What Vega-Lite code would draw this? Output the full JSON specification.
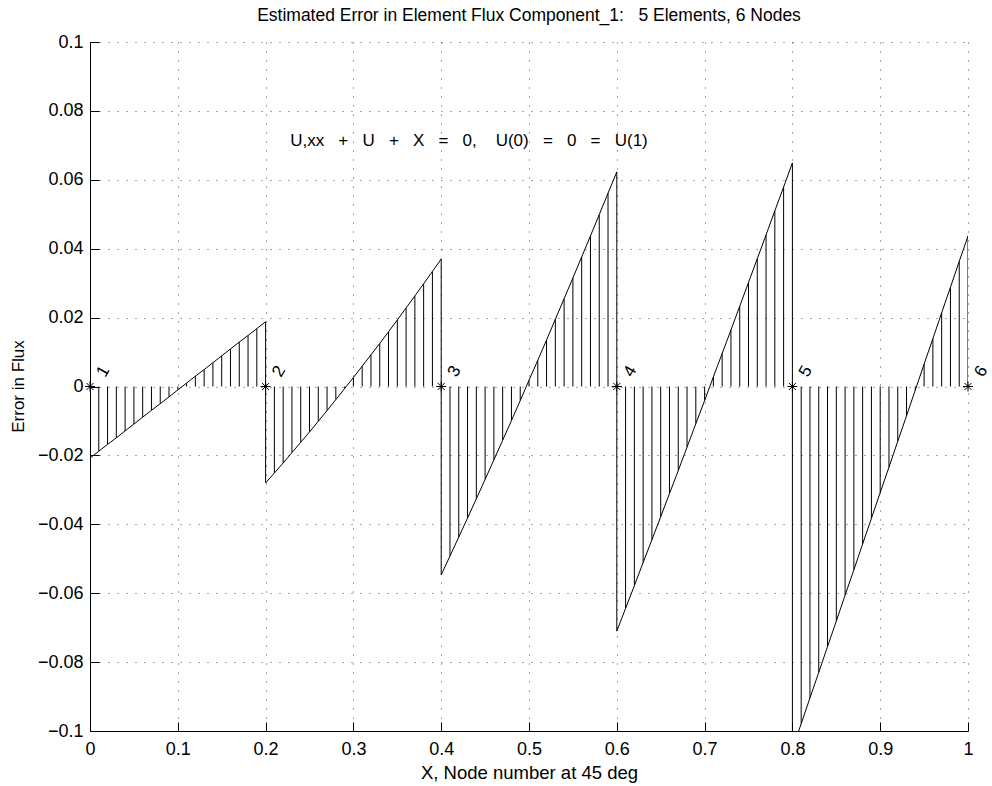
{
  "$schema": "https://vega.github.io/schema/vega-lite/v6.json",
  "autosize": {"type": "none"},
  "padding": {"left": 90, "top": 42, "right": 24, "bottom": 55},
  "width": 878,
  "height": 689,
  "background": "white",
  "title": {
    "text": "Estimated Error in Element Flux Component_1:\u00a0\u00a0\u00a05 Elements, 6 Nodes",
    "font": "Liberation Sans",
    "fontSize": 17.5,
    "fontWeight": "normal",
    "color": "black",
    "baseline": "alphabetic",
    "frame": "group",
    "anchor": "middle",
    "offset": 0,
    "dy": 5
  },
  "config": {
    "view": {"stroke": null},
    "axis": {
      "domainColor": "black",
      "tickColor": "black",
      "labelColor": "black",
      "titleColor": "black",
      "labelFont": "Liberation Sans",
      "titleFont": "Liberation Sans",
      "labelFontSize": 18,
      "titleFontWeight": "normal",
      "grid": true,
      "gridColor": "black",
      "gridDash": [1, 8],
      "gridOpacity": 0.7,
      "tickSize": -9,
      "labelFlush": false,
      "labelOverlap": false
    }
  },
  "datasets": {
    "err": [
      {"e": 1, "x": 0.00, "v": -0.0208}, {"e": 1, "x": 0.01, "v": -0.0188}, {"e": 1, "x": 0.02, "v": -0.0168},
      {"e": 1, "x": 0.03, "v": -0.0149}, {"e": 1, "x": 0.04, "v": -0.0129}, {"e": 1, "x": 0.05, "v": -0.0109},
      {"e": 1, "x": 0.06, "v": -0.0089}, {"e": 1, "x": 0.07, "v": -0.0069}, {"e": 1, "x": 0.08, "v": -0.0050},
      {"e": 1, "x": 0.09, "v": -0.0030}, {"e": 1, "x": 0.10, "v": -0.0010}, {"e": 1, "x": 0.11, "v": 0.0010},
      {"e": 1, "x": 0.12, "v": 0.0030}, {"e": 1, "x": 0.13, "v": 0.0049}, {"e": 1, "x": 0.14, "v": 0.0069},
      {"e": 1, "x": 0.15, "v": 0.0089}, {"e": 1, "x": 0.16, "v": 0.0109}, {"e": 1, "x": 0.17, "v": 0.0129},
      {"e": 1, "x": 0.18, "v": 0.0148}, {"e": 1, "x": 0.19, "v": 0.0168}, {"e": 1, "x": 0.20, "v": 0.0188},

      {"e": 2, "x": 0.20, "v": -0.0280}, {"e": 2, "x": 0.21, "v": -0.0251}, {"e": 2, "x": 0.22, "v": -0.0222},
      {"e": 2, "x": 0.23, "v": -0.0192}, {"e": 2, "x": 0.24, "v": -0.0162}, {"e": 2, "x": 0.25, "v": -0.0132},
      {"e": 2, "x": 0.26, "v": -0.0101}, {"e": 2, "x": 0.27, "v": -0.0070}, {"e": 2, "x": 0.28, "v": -0.0038},
      {"e": 2, "x": 0.29, "v": -0.0006}, {"e": 2, "x": 0.30, "v": 0.0026}, {"e": 2, "x": 0.31, "v": 0.0059},
      {"e": 2, "x": 0.32, "v": 0.0092}, {"e": 2, "x": 0.33, "v": 0.0125}, {"e": 2, "x": 0.34, "v": 0.0159},
      {"e": 2, "x": 0.35, "v": 0.0193}, {"e": 2, "x": 0.36, "v": 0.0228}, {"e": 2, "x": 0.37, "v": 0.0263},
      {"e": 2, "x": 0.38, "v": 0.0298}, {"e": 2, "x": 0.39, "v": 0.0334}, {"e": 2, "x": 0.40, "v": 0.0370},

      {"e": 3, "x": 0.40, "v": -0.0547}, {"e": 3, "x": 0.41, "v": -0.0492}, {"e": 3, "x": 0.42, "v": -0.0437},
      {"e": 3, "x": 0.43, "v": -0.0382}, {"e": 3, "x": 0.44, "v": -0.0326}, {"e": 3, "x": 0.45, "v": -0.0270},
      {"e": 3, "x": 0.46, "v": -0.0213}, {"e": 3, "x": 0.47, "v": -0.0156}, {"e": 3, "x": 0.48, "v": -0.0099},
      {"e": 3, "x": 0.49, "v": -0.0041}, {"e": 3, "x": 0.50, "v": 0.0018}, {"e": 3, "x": 0.51, "v": 0.0076},
      {"e": 3, "x": 0.52, "v": 0.0135}, {"e": 3, "x": 0.53, "v": 0.0195}, {"e": 3, "x": 0.54, "v": 0.0255},
      {"e": 3, "x": 0.55, "v": 0.0315}, {"e": 3, "x": 0.56, "v": 0.0376}, {"e": 3, "x": 0.57, "v": 0.0437},
      {"e": 3, "x": 0.58, "v": 0.0499}, {"e": 3, "x": 0.59, "v": 0.0561}, {"e": 3, "x": 0.60, "v": 0.0623},

      {"e": 4, "x": 0.60, "v": -0.0710}, {"e": 4, "x": 0.61, "v": -0.0644}, {"e": 4, "x": 0.62, "v": -0.0578},
      {"e": 4, "x": 0.63, "v": -0.0511}, {"e": 4, "x": 0.64, "v": -0.0445}, {"e": 4, "x": 0.65, "v": -0.0378},
      {"e": 4, "x": 0.66, "v": -0.0311}, {"e": 4, "x": 0.67, "v": -0.0244}, {"e": 4, "x": 0.68, "v": -0.0176},
      {"e": 4, "x": 0.69, "v": -0.0108}, {"e": 4, "x": 0.70, "v": -0.0041}, {"e": 4, "x": 0.71, "v": 0.0028},
      {"e": 4, "x": 0.72, "v": 0.0096}, {"e": 4, "x": 0.73, "v": 0.0164}, {"e": 4, "x": 0.74, "v": 0.0233},
      {"e": 4, "x": 0.75, "v": 0.0302}, {"e": 4, "x": 0.76, "v": 0.0371}, {"e": 4, "x": 0.77, "v": 0.0440},
      {"e": 4, "x": 0.78, "v": 0.0510}, {"e": 4, "x": 0.79, "v": 0.0579}, {"e": 4, "x": 0.80, "v": 0.0649},

      {"e": 5, "x": 0.80, "v": -0.1053}, {"e": 5, "x": 0.81, "v": -0.0979}, {"e": 5, "x": 0.82, "v": -0.0904},
      {"e": 5, "x": 0.83, "v": -0.0830}, {"e": 5, "x": 0.84, "v": -0.0755}, {"e": 5, "x": 0.85, "v": -0.0681},
      {"e": 5, "x": 0.86, "v": -0.0606}, {"e": 5, "x": 0.87, "v": -0.0532}, {"e": 5, "x": 0.88, "v": -0.0457},
      {"e": 5, "x": 0.89, "v": -0.0383}, {"e": 5, "x": 0.90, "v": -0.0308}, {"e": 5, "x": 0.91, "v": -0.0234},
      {"e": 5, "x": 0.92, "v": -0.0159}, {"e": 5, "x": 0.93, "v": -0.0085}, {"e": 5, "x": 0.94, "v": -0.0010},
      {"e": 5, "x": 0.95, "v": 0.0065}, {"e": 5, "x": 0.96, "v": 0.0139}, {"e": 5, "x": 0.97, "v": 0.0214},
      {"e": 5, "x": 0.98, "v": 0.0288}, {"e": 5, "x": 0.99, "v": 0.0363}, {"e": 5, "x": 1.00, "v": 0.0437}
    ],
    "nodes": [
      {"n": "1", "x": 0.0}, {"n": "2", "x": 0.2}, {"n": "3", "x": 0.4},
      {"n": "4", "x": 0.6}, {"n": "5", "x": 0.8}, {"n": "6", "x": 1.0}
    ]
  },
  "layer": [
    {
      "data": {"name": "err"},
      "mark": {"type": "rule", "color": "black", "strokeWidth": 1, "clip": true},
      "encoding": {
        "x": {
          "field": "x", "type": "quantitative",
          "scale": {"domain": [0, 1], "nice": false, "zero": false},
          "axis": {
            "values": [0, 0.1, 0.2, 0.3, 0.4, 0.5, 0.6, 0.7, 0.8, 0.9, 1],
            "format": "~g",
            "labelPadding": 18,
            "title": "X, Node number at 45 deg",
            "titleFontSize": 18.5,
            "titleX": 439,
            "titleY": 41,
            "titleBaseline": "middle",
            "titleAnchor": null
          }
        },
        "y": {
          "field": "v", "type": "quantitative",
          "scale": {"domain": [-0.1, 0.1], "nice": false, "zero": false},
          "axis": {
            "values": [-0.1, -0.08, -0.06, -0.04, -0.02, 0, 0.02, 0.04, 0.06, 0.08, 0.1],
            "format": "~g",
            "labelPadding": 16,
            "title": "Error in Flux",
            "titleFontSize": 17,
            "titleX": -72,
            "titleY": 344,
            "titleAngle": -90,
            "titleBaseline": "middle",
            "titleAnchor": null
          }
        },
        "y2": {"datum": 0}
      }
    },
    {
      "data": {"name": "err"},
      "mark": {"type": "line", "color": "black", "strokeWidth": 1, "clip": true},
      "encoding": {
        "x": {"field": "x", "type": "quantitative"},
        "y": {"field": "v", "type": "quantitative"},
        "detail": {"field": "e"},
        "order": {"field": "x"}
      }
    },
    {
      "data": {"name": "nodes"},
      "mark": {
        "type": "point",
        "shape": "M-1,0L1,0M0,-1L0,1M-0.7,-0.7L0.7,0.7M-0.7,0.7L0.7,-0.7",
        "size": 100,
        "filled": false,
        "stroke": "black",
        "strokeWidth": 1,
        "opacity": 1
      },
      "encoding": {
        "x": {"field": "x", "type": "quantitative"},
        "y": {"datum": 0}
      }
    },
    {
      "data": {"name": "nodes"},
      "mark": {
        "type": "text",
        "font": "Liberation Sans",
        "fontSize": 17,
        "color": "black",
        "align": "left",
        "baseline": "middle",
        "angle": -60,
        "xOffset": 11,
        "yOffset": -11
      },
      "encoding": {
        "x": {"field": "x", "type": "quantitative"},
        "y": {"datum": 0},
        "text": {"field": "n"}
      }
    },
    {
      "data": {"values": [{"label": "U,xx\u00a0\u00a0\u00a0+\u00a0\u00a0\u00a0U\u00a0\u00a0\u00a0+\u00a0\u00a0\u00a0X\u00a0\u00a0\u00a0=\u00a0\u00a0\u00a00,\u00a0\u00a0\u00a0\u00a0U(0)\u00a0\u00a0\u00a0=\u00a0\u00a0\u00a00\u00a0\u00a0\u00a0=\u00a0\u00a0\u00a0U(1)", "x": 0.228, "y": 0.0713}]},
      "mark": {
        "type": "text",
        "font": "Liberation Sans",
        "fontSize": 17,
        "color": "black",
        "align": "left",
        "baseline": "middle"
      },
      "encoding": {
        "x": {"field": "x", "type": "quantitative"},
        "y": {"field": "y", "type": "quantitative"},
        "text": {"field": "label"}
      }
    }
  ]
}
